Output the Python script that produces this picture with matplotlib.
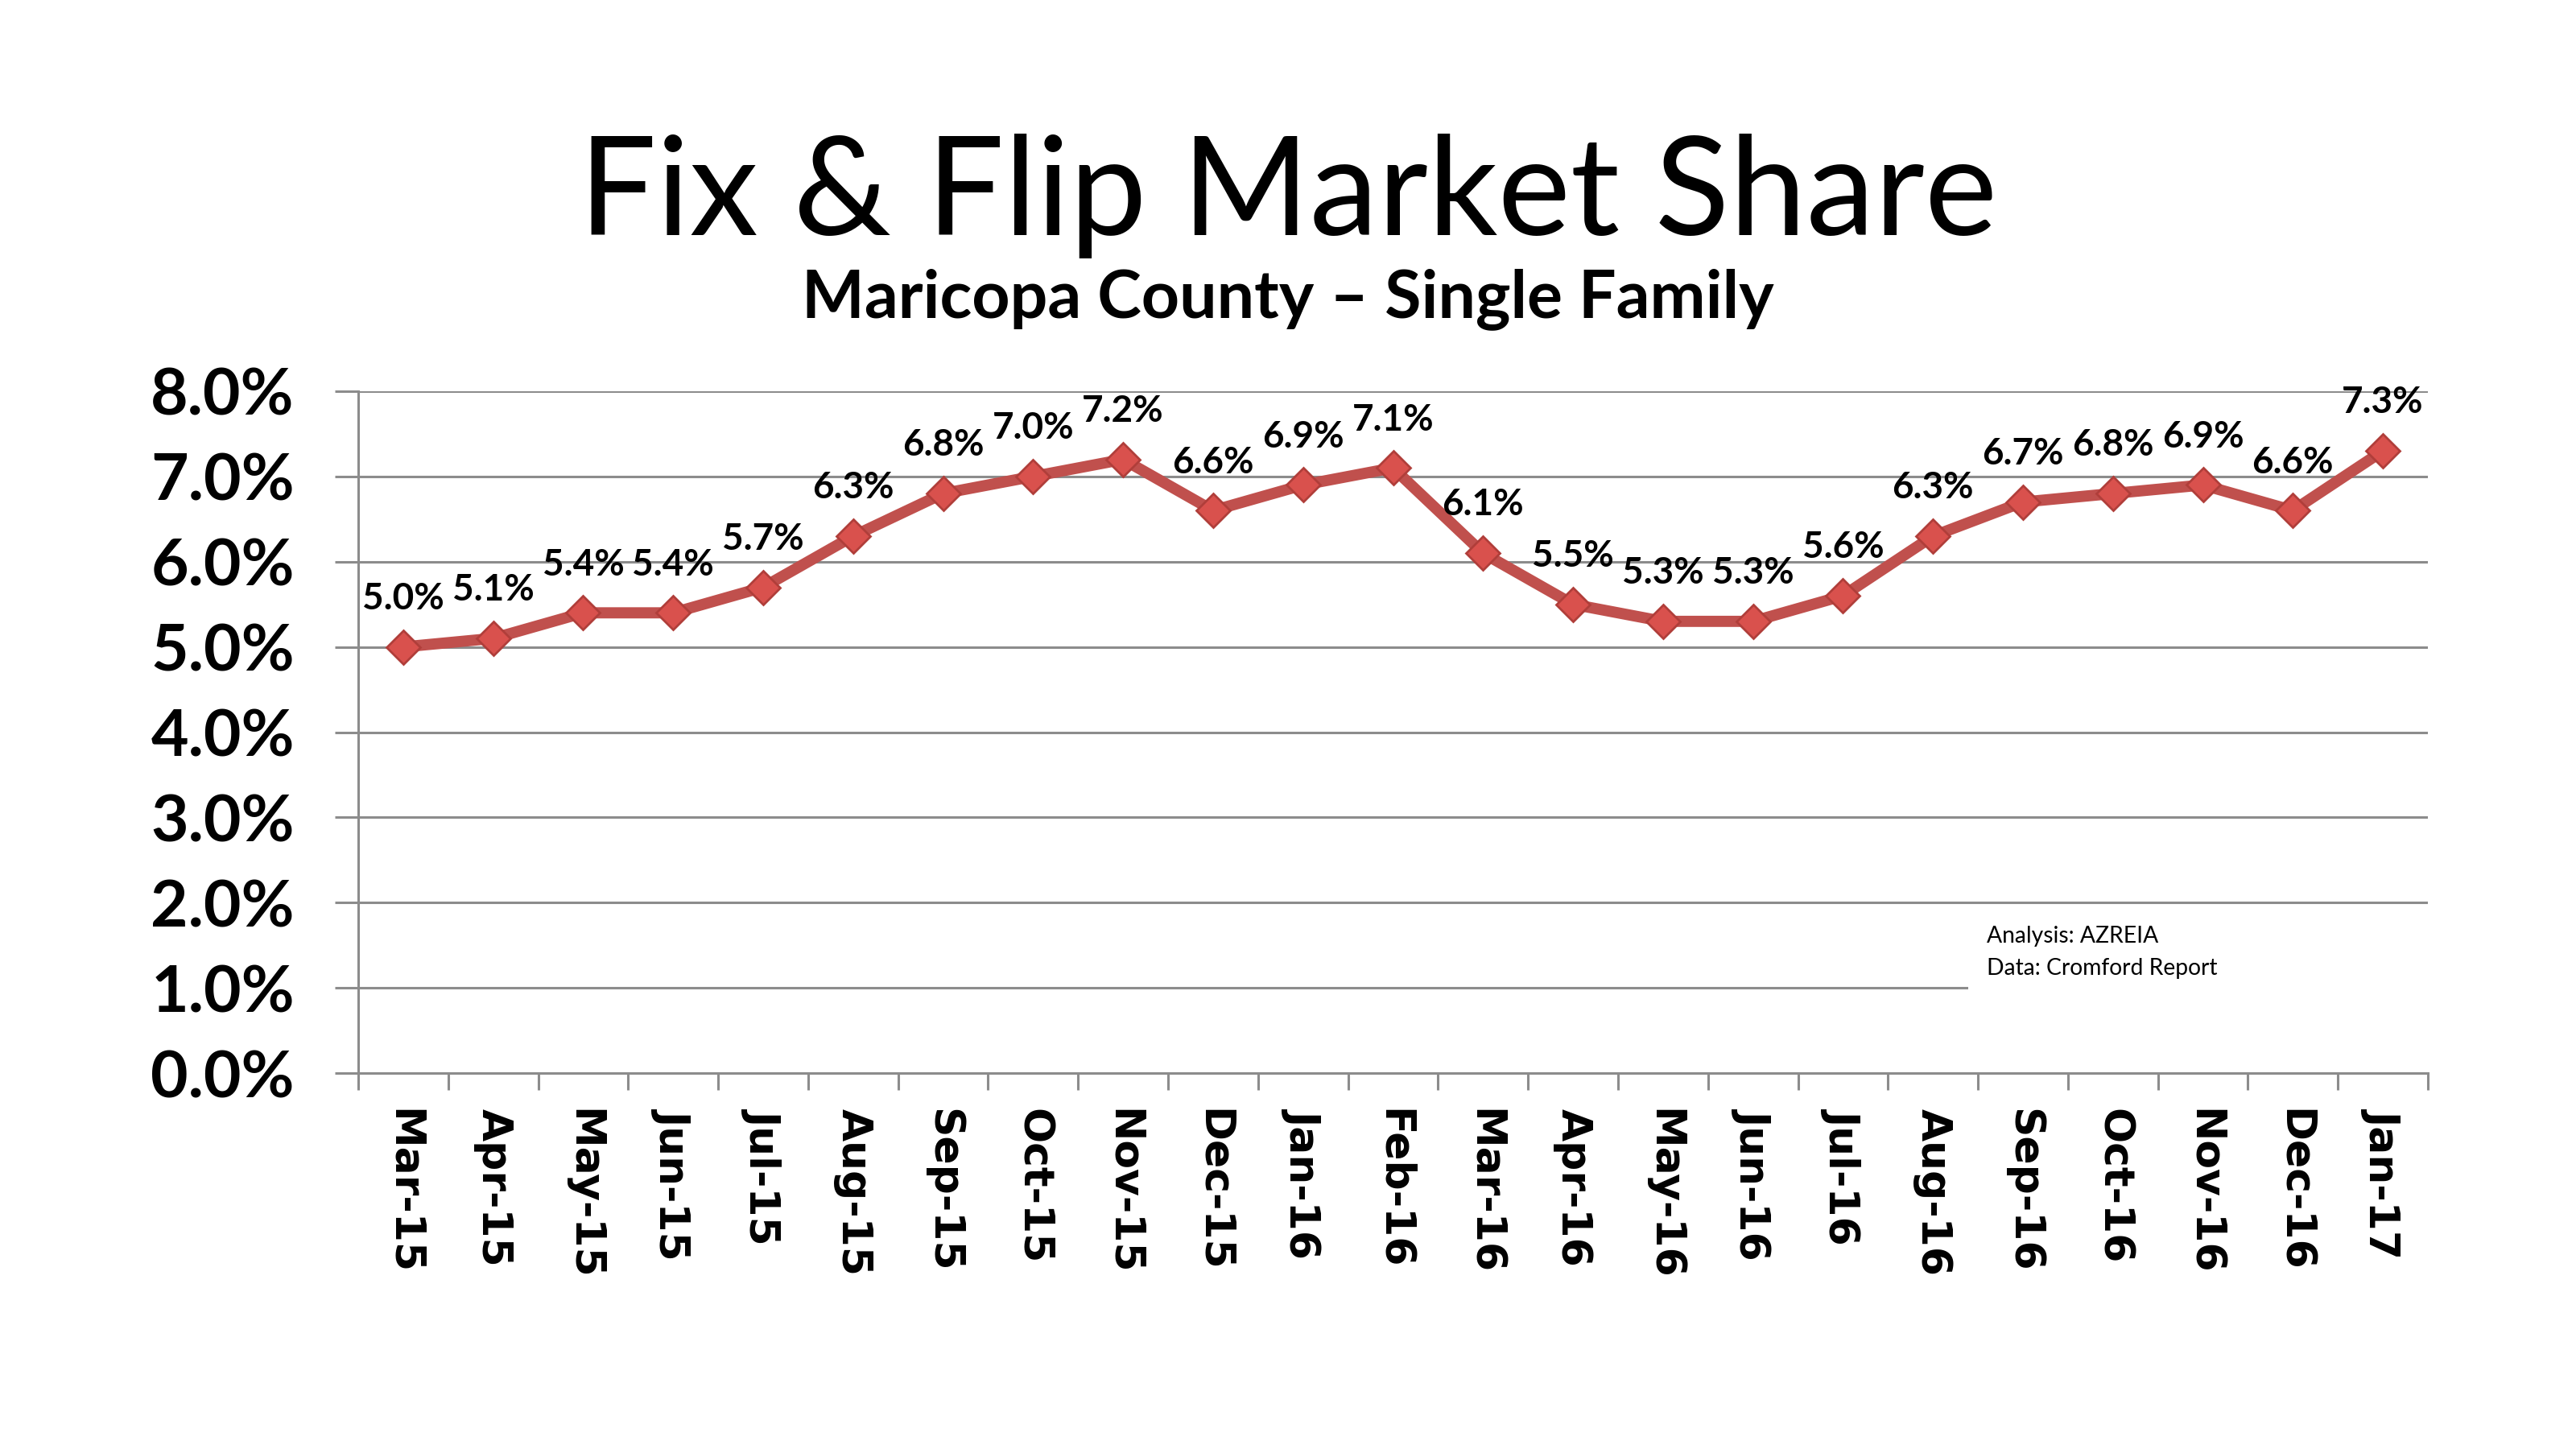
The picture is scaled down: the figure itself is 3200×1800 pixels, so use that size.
import matplotlib
matplotlib.use("Agg")
import matplotlib.pyplot as plt
from matplotlib.patches import Rectangle
from matplotlib.ticker import FixedLocator

months = ["Mar-15", "Apr-15", "May-15", "Jun-15", "Jul-15", "Aug-15", "Sep-15",
          "Oct-15", "Nov-15", "Dec-15", "Jan-16", "Feb-16", "Mar-16", "Apr-16",
          "May-16", "Jun-16", "Jul-16", "Aug-16", "Sep-16", "Oct-16", "Nov-16",
          "Dec-16", "Jan-17"]
share = [5.0, 5.1, 5.4, 5.4, 5.7, 6.3, 6.8, 7.0, 7.2, 6.6, 6.9, 7.1, 6.1, 5.5,
         5.3, 5.3, 5.6, 6.3, 6.7, 6.8, 6.9, 6.6, 7.3]
y_ticks = [0, 1, 2, 3, 4, 5, 6, 7, 8]
y_tick_labels = ["0.0%", "1.0%", "2.0%", "3.0%", "4.0%", "5.0%", "6.0%", "7.0%", "8.0%"]

title = "Fix & Flip Market Share"
subtitle = "Maricopa County \u2013 Single Family"
note = "Analysis: AZREIA\nData: Cromford Report"

W, H = 3200, 1800
fig = plt.figure(figsize=(16, 9), dpi=200)
fig.patch.set_facecolor("white")

ax_left, ax_right = 445 / W, 3016 / W
ax_top, ax_bot = 1 - 486 / H, 1 - 1333 / H
ax = fig.add_axes([ax_left, ax_bot, ax_right - ax_left, ax_top - ax_bot])

grid_c = "#8C8C8C"
x = list(range(len(months)))

ax.set_xlim(-0.5, len(months) - 0.5)
ax.set_ylim(0, 8)
ax.set_axisbelow(True)
ax.yaxis.grid(True, color=grid_c, linewidth=1.1)
for s in ["top", "right"]:
    ax.spines[s].set_visible(False)
for s in ["left", "bottom"]:
    ax.spines[s].set_color(grid_c)
    ax.spines[s].set_linewidth(1.1)

ax.set_yticks(y_ticks)
ax.set_yticklabels(y_tick_labels, fontfamily="Lato", fontweight="bold", fontsize=29)
ax.tick_params(axis="y", direction="out", length=10.5, width=1.1, color=grid_c, pad=18)

ax.set_xticks(x)
ax.set_xticklabels(months, rotation=270, fontfamily="DejaVu Sans", fontweight="bold",
                   fontsize=18.7, va="top", ha="center")
ax.tick_params(axis="x", which="major", length=0, pad=16)
ax.xaxis.set_minor_locator(FixedLocator([i - 0.5 for i in range(len(months) + 1)]))
ax.tick_params(axis="x", which="minor", direction="out", length=7.5, width=1.1, color=grid_c)

ax.plot(x, share, color="#C0504D", linewidth=5, zorder=3, solid_joinstyle="round",
        marker="D", markersize=10.5, markerfacecolor="#D9514D",
        markeredgecolor="#B03E3A", markeredgewidth=1.0)

for xi, v in zip(x, share):
    ax.annotate(f"{v:.1f}%", (xi, v), xytext=(0, 21.5), textcoords="offset points",
                ha="center", va="center", fontfamily="Lato", fontweight="bold",
                fontsize=16.5, color="black", zorder=4)

# white note box hiding part of the 1.0% gridline
fig.patches.append(Rectangle((2445 / W, 1 - 1245 / H), (3030 - 2445) / W, (1245 - 1130) / H,
                             transform=fig.transFigure, facecolor="white",
                             edgecolor="none", zorder=5))
fig.text(2468 / W, 1 - 1150 / H, note, fontfamily="Lato", fontsize=10.2,
         va="top", ha="left", linespacing=1.65, zorder=6)

fig.text(0.5, 1 - 292 / H, title, fontfamily="Lato", fontsize=61.5,
         ha="center", va="baseline")
fig.text(0.5, 1 - 394 / H, subtitle, fontfamily="Lato", fontweight="bold", fontsize=29.7,
         ha="center", va="baseline")

fig.savefig("out.png", dpi=200, facecolor="white")
